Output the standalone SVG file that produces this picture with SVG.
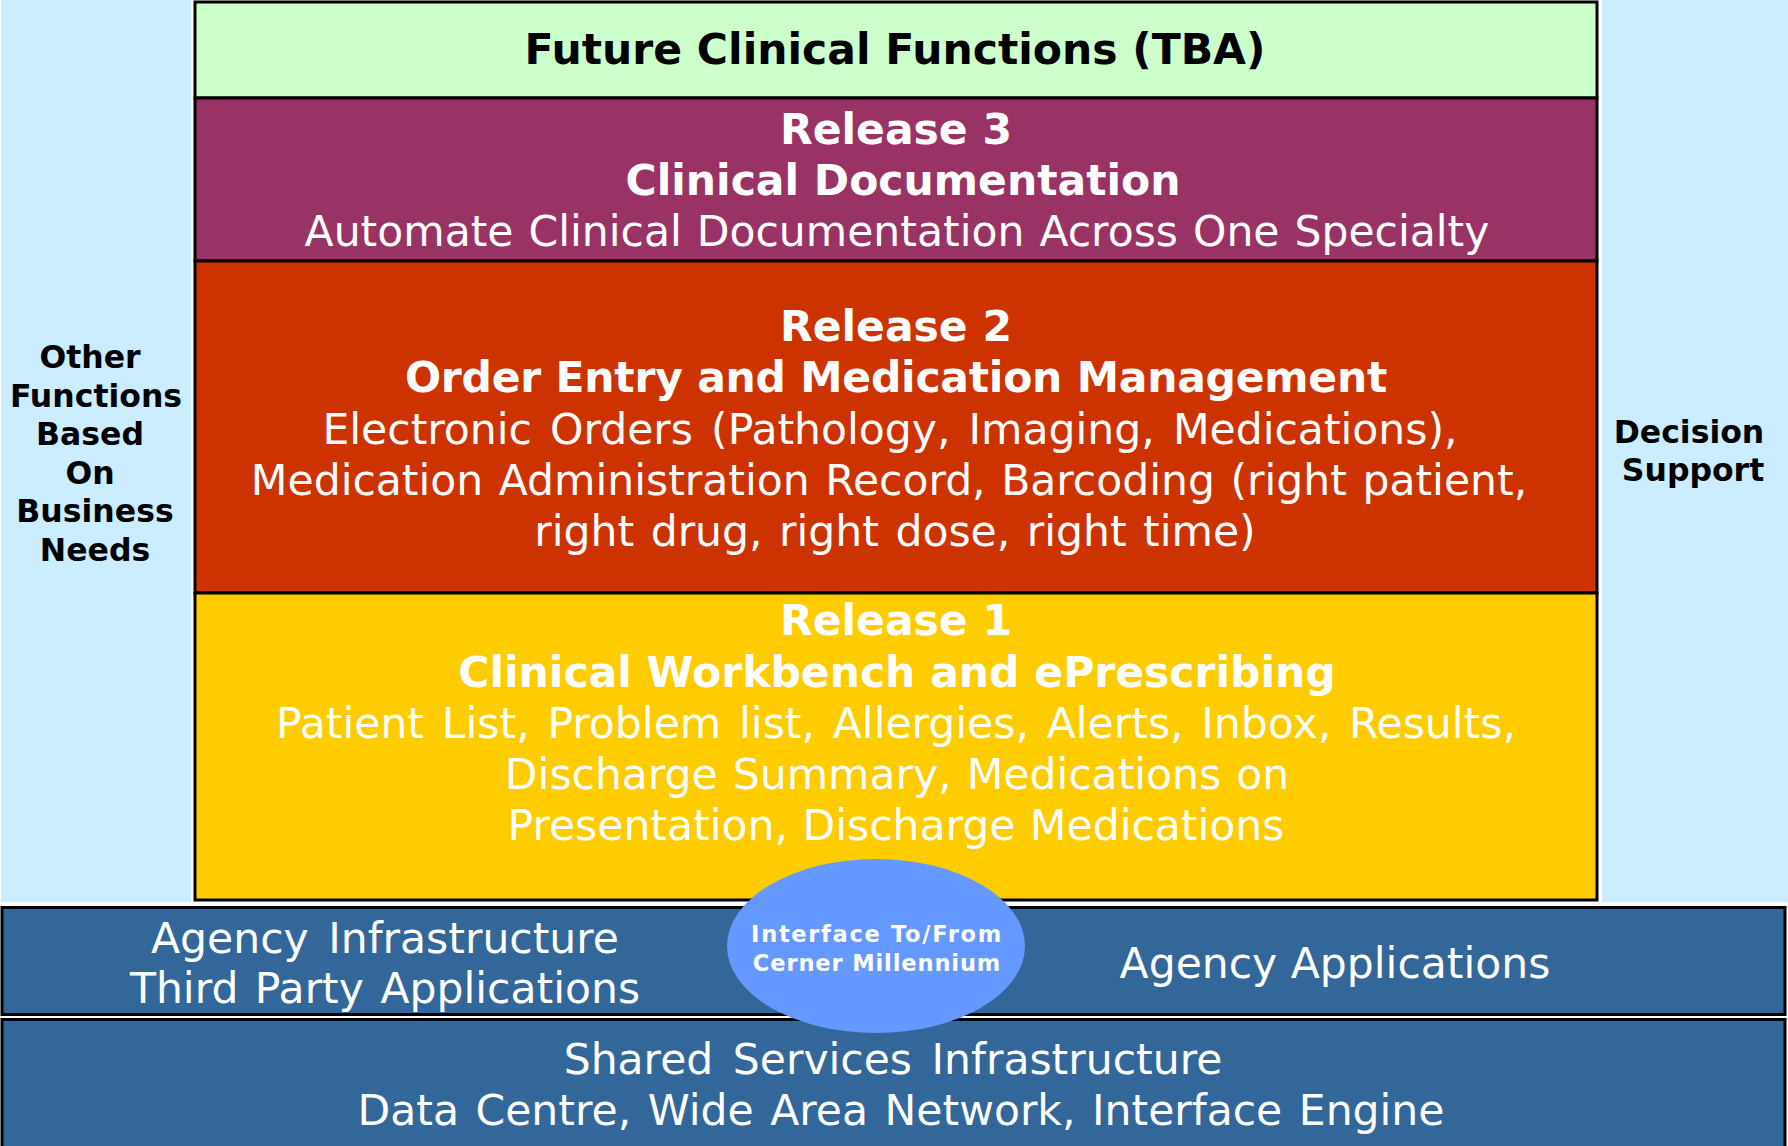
<svg xmlns="http://www.w3.org/2000/svg" width="1788" height="1146" viewBox="0 0 1788 1146">
<style>
.box{stroke:#000;stroke-width:3}
.side{fill:#CCECFF}
.band{fill:#336699;stroke:#000;stroke-width:3}
.b{font-family:"DejaVu Sans",Verdana,sans-serif;font-weight:bold;text-anchor:middle}
.r{font-family:"DejaVu Sans",Verdana,sans-serif;text-anchor:middle}
.big{font-size:42.5px}
.w{fill:#fff}
.k{fill:#000}
.sidet{font-size:31.5px}
.ell{font-size:22.5px}
</style>
<rect width="1788" height="1146" fill="#fff"/>
<g id="other-functions">
<rect class="side" x="1" y="0" width="190" height="902"/>
<text class="b sidet k" x="90" y="368">Other</text>
<text class="b sidet k" x="96" y="406.5">Functions</text>
<text class="b sidet k" x="90" y="445">Based</text>
<text class="b sidet k" x="90" y="483.5">On</text>
<text class="b sidet k" x="95" y="522">Business</text>
<text class="b sidet k" x="95" y="560.5">Needs</text>
</g>
<g id="decision-support">
<rect class="side" x="1602" y="0" width="186" height="902"/>
<text class="b sidet k" x="1689" y="443">Decision</text>
<text class="b sidet k" x="1693" y="481">Support</text>
</g>
<g id="future">
<rect class="box" x="195" y="2" width="1402" height="96" fill="#CCFFCC"/>
<text class="b big k" x="895" y="64">Future Clinical Functions (TBA)</text>
</g>
<g id="release3">
<rect class="box" x="195" y="98" width="1402" height="163" fill="#993366"/>
<text class="b big w" x="896" y="144">Release 3</text>
<text class="b big w" x="903" y="195">Clinical Documentation</text>
<text class="r big w" x="897" y="246" word-spacing="1.5">Automate Clinical Documentation Across One Specialty</text>
</g>
<g id="release2">
<rect class="box" x="195" y="261" width="1402" height="332" fill="#CC3300"/>
<text class="b big w" x="896" y="341">Release 2</text>
<text class="b big w" x="896" y="392" letter-spacing="-0.25">Order Entry and Medication Management</text>
<text class="r big w" x="890" y="444" word-spacing="4.6">Electronic Orders (Pathology, Imaging, Medications),</text>
<text class="r big w" x="889" y="495" word-spacing="2">Medication Administration Record, Barcoding (right patient,</text>
<text class="r big w" x="895" y="546" word-spacing="3">right drug, right dose, right time)</text>
</g>
<g id="release1">
<rect class="box" x="195" y="593" width="1402" height="307" fill="#FFCC00"/>
<text class="b big w" x="896" y="635">Release 1</text>
<text class="b big w" x="897" y="687">Clinical Workbench and ePrescribing</text>
<text class="r big w" x="896" y="738" word-spacing="4.3">Patient List, Problem list, Allergies, Alerts, Inbox, Results,</text>
<text class="r big w" x="897" y="789" word-spacing="1.5">Discharge Summary, Medications on</text>
<text class="r big w" x="896" y="840" word-spacing="1">Presentation, Discharge Medications</text>
</g>
<g id="agency">
<rect class="band" x="2" y="907.5" width="1783" height="107"/>
<text class="r big w" x="385" y="953" word-spacing="6">Agency Infrastructure</text>
<text class="r big w" x="385" y="1003" word-spacing="3">Third Party Applications</text>
<text class="r big w" x="1335" y="978">Agency Applications</text>
</g>
<g id="shared-services">
<rect class="band" x="2" y="1019.5" width="1783" height="132"/>
<text class="r big w" x="893" y="1074" word-spacing="6">Shared Services Infrastructure</text>
<text class="r big w" x="901" y="1125" word-spacing="3">Data Centre, Wide Area Network, Interface Engine</text>
</g>
<g id="interface">
<ellipse cx="876" cy="946" rx="149" ry="87" fill="#6699FF"/>
<text class="b ell w" x="877" y="942" letter-spacing="1.7">Interface To/From</text>
<text class="b ell w" x="877" y="971" letter-spacing="0.9">Cerner Millennium</text>
</g>
<g id="connectors"/>
</svg>
